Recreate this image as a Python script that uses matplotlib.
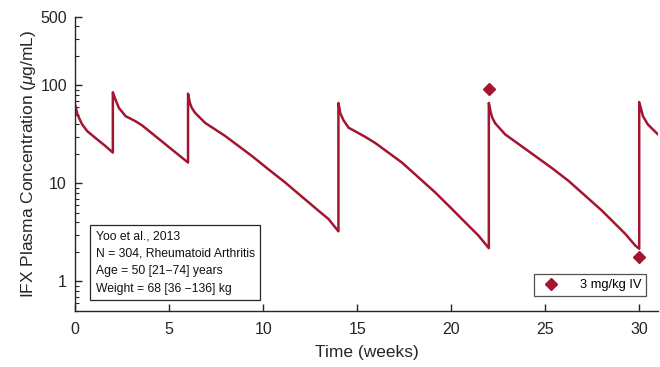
import matplotlib

matplotlib.use("Agg")

import matplotlib.pyplot as plt
from matplotlib.ticker import FixedFormatter, FixedLocator, LogLocator, NullFormatter

plt.rcParams["font.family"] = ["Liberation Sans", "DejaVu Sans"]
plt.rcParams["mathtext.fontset"] = "custom"
plt.rcParams["mathtext.it"] = "Liberation Sans:italic"
plt.rcParams["mathtext.rm"] = "Liberation Sans"

# predicted profile (weeks, ug/mL); repeated times are dose jumps
T = [0.0, 0.1, 0.2, 0.37, 0.64, 1.08, 1.61, 2.0,
     2.0, 2.07, 2.14, 2.32, 2.68, 3.21, 3.56, 6.0,
     6.0, 6.1, 6.2, 6.38, 6.91, 7.98, 9.4, 10.28, 11.17, 12.06, 12.94, 13.47, 14.0,
     14.0, 14.1, 14.27, 14.54, 14.89, 15.43, 15.96, 17.38, 18.26, 19.15, 20.04,
     20.92, 21.45, 22.0,
     22.0, 22.1, 22.2, 22.34, 22.87, 24.47, 25.36, 26.24, 27.13, 28.02, 29.26,
     29.79, 30.0,
     30.0, 30.2, 30.46, 30.82, 31.0]
C = [62.6, 52.0, 46.6, 39.9, 34.1, 29.0, 24.0, 20.6,
     85.0, 78.0, 71.6, 58.9, 48.5, 43.0, 39.0, 16.3,
     82.4, 66.0, 58.9, 52.3, 41.4, 30.4, 19.0, 13.9, 10.2, 7.3, 5.26, 4.33, 3.24,
     66.1, 52.0, 44.0, 37.0, 34.0, 29.8, 25.8, 16.3, 11.5, 8.07, 5.47,
     3.70, 2.93, 2.18,
     66.1, 53.0, 46.0, 41.0, 31.6, 19.0, 14.3, 10.6, 7.47, 5.26, 3.05,
     2.32, 2.15,
     67.6, 48.4, 39.9, 34.1, 31.6]

# observed concentrations
OBS_T = [22, 30]
OBS_C = [92.5, 1.79]

INFO = ["Yoo et al., 2013",
        "N = 304, Rheumatoid Arthritis",
        "Age = 50 [21\u221274] years",
        "Weight = 68 [36 \u2212136] kg"]

RED = "#A3162F"
INK = "#262626"

fig, ax = plt.subplots(figsize=(6.6, 3.67), dpi=100)
fig.subplots_adjust(left=0.114, right=0.997, top=0.954, bottom=0.153)

ax.plot(T, C, color=RED, linewidth=1.8, zorder=2)
ax.plot(OBS_T, OBS_C, linestyle="none", marker="D", markersize=6.5,
        color=RED, label="3 mg/kg IV", zorder=3)

ax.set_yscale("log")
ax.set_ylim(0.5, 500)
ax.set_xlim(0, 31)
ax.yaxis.set_major_locator(FixedLocator([1, 10, 100, 500]))
ax.yaxis.set_major_formatter(FixedFormatter(["1", "10", "100", "500"]))
ax.yaxis.set_minor_locator(LogLocator(base=10, subs=range(2, 10)))
ax.yaxis.set_minor_formatter(NullFormatter())
ax.set_xticks([0, 5, 10, 15, 20, 25, 30])

for side in ["top", "right"]:
    ax.spines[side].set_visible(False)
for side in ["left", "bottom"]:
    ax.spines[side].set_linewidth(1.0)
    ax.spines[side].set_color(INK)

ax.tick_params(which="major", direction="in", length=5, width=1.0,
               labelsize=11.5, colors=INK)
ax.tick_params(axis="x", which="major", pad=8)
ax.tick_params(axis="y", which="major", pad=6)
ax.tick_params(which="minor", direction="in", length=3, width=0.8, colors=INK)

ax.set_xlabel("Time (weeks)", fontsize=12.5, color=INK, labelpad=6)
ax.set_ylabel(r"IFX Plasma Concentration ($\mu$g/mL)", fontsize=12.5,
              color=INK, labelpad=2)

ax.text(0.035, 0.055, "\n".join(INFO), transform=ax.transAxes, ha="left", va="bottom",
        fontsize=8.7, linespacing=1.6, color="#111111",
        bbox={"boxstyle": "square,pad=0.45", "facecolor": "white",
              "edgecolor": INK, "linewidth": 0.9})

leg = ax.legend(loc="lower right", bbox_to_anchor=(0.99, 0.03), fontsize=9.3,
                frameon=True, fancybox=False, edgecolor=INK,
                handletextpad=1.2, borderpad=0.35, markerscale=1.0)
leg.get_frame().set_linewidth(0.9)

fig.savefig("out.png", dpi=100)
